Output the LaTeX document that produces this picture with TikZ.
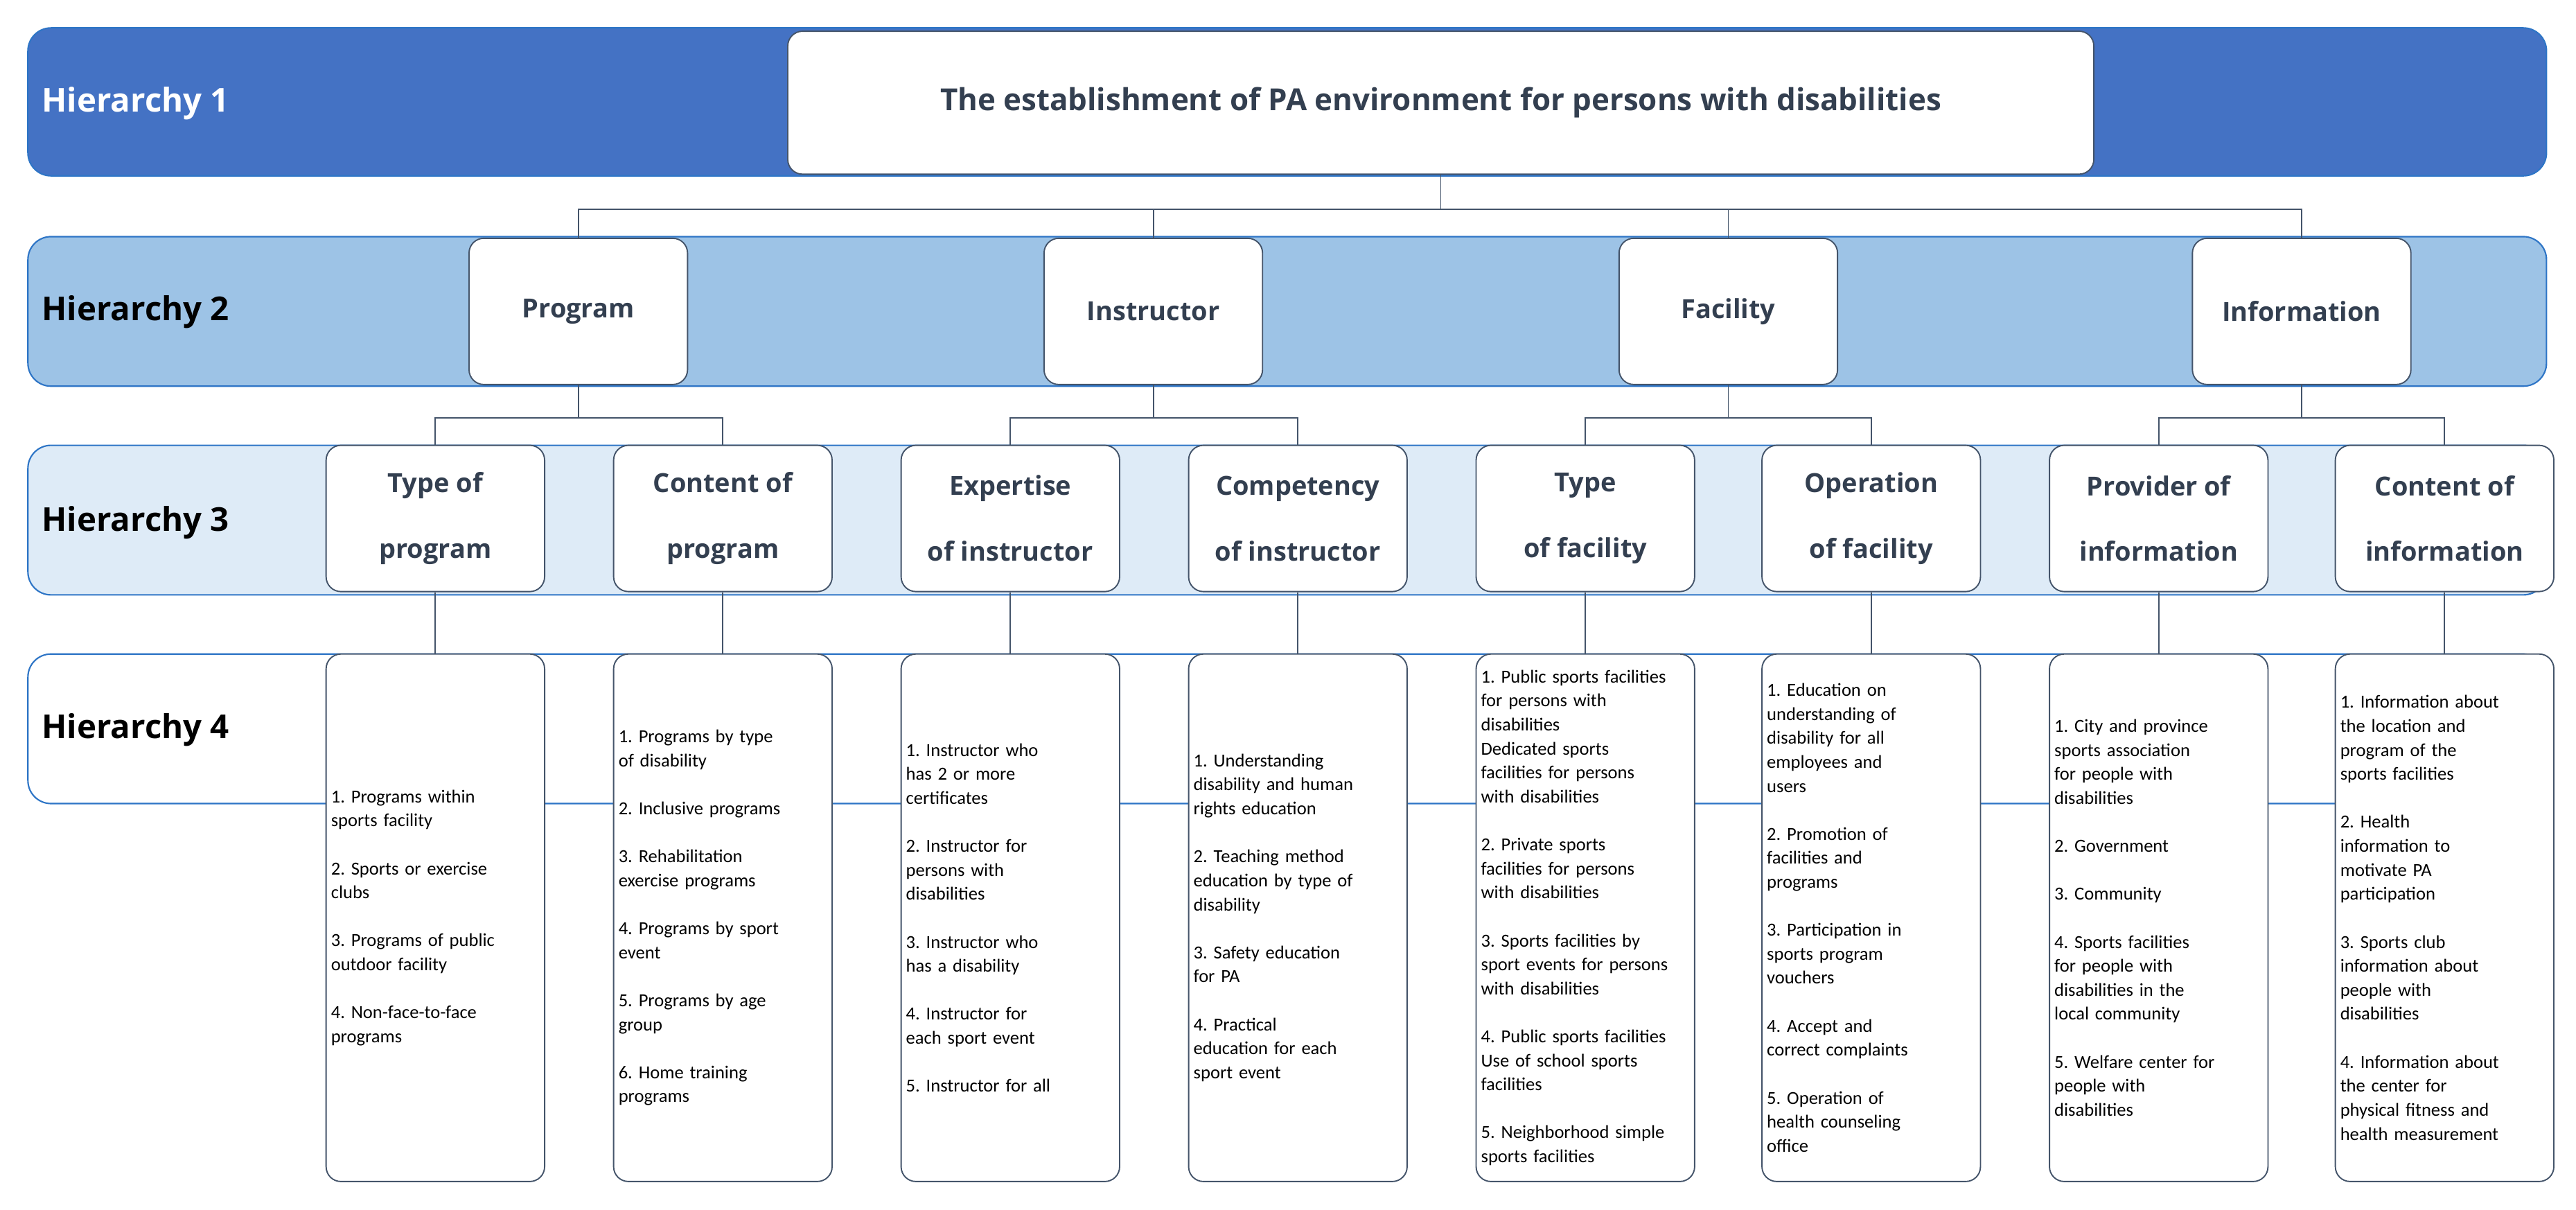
\documentclass[tikz,border=0pt]{standalone}
\usepackage{fontspec}
\setmainfont{Open Sans}
\newfontfamily\itemfont{Carlito}
\usetikzlibrary{positioning}
\definecolor{bandA}{HTML}{4472C4}
\definecolor{bandB}{HTML}{9DC3E6}
\definecolor{bandC}{HTML}{DEEBF7}
\definecolor{bandline}{HTML}{2E75C6}
\definecolor{boxline}{HTML}{44546A}
\definecolor{boxtext}{HTML}{333F50}
\tikzset{
  band/.style={draw=bandline, line width=0.9pt, rounded corners=14pt},
  level/.style={anchor=west, font=\fontsize{20}{25}\selectfont\bfseries},
  box/.style={draw=boxline, fill=white, line width=0.8pt, rounded corners=9pt, minimum width=133pt, inner sep=0pt},
  head/.style={box, minimum height=89pt, text=boxtext, font=\fontsize{16}{40}\selectfont\bfseries, align=center},
  leaf/.style={box, minimum height=321pt, text width=127pt, align=left, font=\itemfont\fontsize{11.2}{14.6}\selectfont},
  link/.style={draw=boxline, line width=0.8pt}
}
\newcommand{\gap}{\\[14.6pt]}
\frenchspacing
\begin{document}
\begin{tikzpicture}[x=1pt, y=-1pt]
  \useasboundingbox (0,0) rectangle (1568,736);
  % bands
  \draw [band, fill=bandA] (17,17) rectangle (1550,107);
  \draw [band, fill=bandB] (17,144) rectangle (1550,235);
  \draw [band, fill=bandC] (17,271) rectangle (1550,362);
  \draw [band, fill=white] (17,398) rectangle (1550,489);
  \node [level, text=white] (h1) at (22,63) {Hierarchy 1};
  \node [level] (h2) at (22,190) {Hierarchy 2};
  \node [level] (h3) at (22,318) {Hierarchy 3};
  \node [level] (h4) at (22,444) {Hierarchy 4};

  % hierarchy 1 and 2
  \node [box, minimum width=795pt, minimum height=87pt, text=boxtext, font=\fontsize{18.5}{24}\selectfont\bfseries] (goal) at (877,62.5) {The establishment of PA environment for persons with disabilities};
  \node [head] (prog) at (352,189.5) {Program};
  \node [head] (inst) at (702,189.5) {Instructor};
  \node [head] (faci) at (1052,189.5) {Facility};
  \node [head] (info) at (1401,189.5) {Information};

  % hierarchy 3
  \node [head] (progtype) at (265,315.5) {Type of\\program};
  \node [head] (progcont) at (440,315.5) {Content of\\program};
  \node [head] (instexp) at (615,315.5) {Expertise\\of instructor};
  \node [head] (instcomp) at (790,315.5) {Competency\\of instructor};
  \node [head] (facitype) at (965,315.5) {Type\\of facility};
  \node [head] (faciop) at (1139,315.5) {Operation\\of facility};
  \node [head] (infoprov) at (1314,315.5) {Provider of\\information};
  \node [head] (infocont) at (1488,315.5) {Content of\\information};

  % hierarchy 4
  \node [leaf] (l1) at (265,558.5) {1. Programs within\\sports facility\gap 2. Sports or exercise\\clubs\gap 3. Programs of public\\outdoor facility\gap 4. Non-face-to-face\\programs};
  \node [leaf] (l2) at (440,558.5) {1. Programs by type\\of disability\gap 2. Inclusive programs\gap 3. Rehabilitation\\exercise programs\gap 4. Programs by sport\\event\gap 5. Programs by age\\group\gap 6. Home training\\programs};
  \node [leaf] (l3) at (615,558.5) {1. Instructor who\\has 2 or more\\certificates\gap 2. Instructor for\\persons with\\disabilities\gap 3. Instructor who\\has a disability\gap 4. Instructor for\\each sport event\gap 5. Instructor for all};
  \node [leaf] (l4) at (790,558.5) {1. Understanding\\disability and human\\rights education\gap 2. Teaching method\\education by type of\\disability\gap 3. Safety education\\for PA\gap 4. Practical\\education for each\\sport event};
  \node [leaf] (l5) at (965,558.5) {1. Public sports facilities\\for persons with\\disabilities\\Dedicated sports\\facilities for persons\\with disabilities\gap 2. Private sports\\facilities for persons\\with disabilities\gap 3. Sports facilities by\\sport events for persons\\with disabilities\gap 4. Public sports facilities\\Use of school sports\\facilities\gap 5. Neighborhood simple\\sports facilities};
  \node [leaf] (l6) at (1139,558.5) {1. Education on\\understanding of\\disability for all\\employees and\\users\gap 2. Promotion of\\facilities and\\programs\gap 3. Participation in\\sports program\\vouchers\gap 4. Accept and\\correct complaints\gap 5. Operation of\\health counseling\\office};
  \node [leaf] (l7) at (1314,558.5) {1. City and province\\sports association\\for people with\\disabilities\gap 2. Government\gap 3. Community\gap 4. Sports facilities\\for people with\\disabilities in the\\local community\gap 5. Welfare center for\\people with\\disabilities};
  \node [leaf] (l8) at (1488,558.5) {1. Information about\\the location and\\program of the\\sports facilities\gap 2. Health\\information to\\motivate PA\\participation\gap 3. Sports club\\information about\\people with\\disabilities\gap 4. Information about\\the center for\\physical fitness and\\health measurement};

  % connectors
  \foreach \child in {prog,inst,faci,info}
    \draw [link] (goal.south) -- ++(0,21) -| (\child.north);
  \foreach \parent/\a/\b in {prog/progtype/progcont, inst/instexp/instcomp, faci/facitype/faciop, info/infoprov/infocont}{
    \draw [link] (\parent.south) -- ++(0,20) -| (\a.north);
    \draw [link] (\parent.south) -- ++(0,20) -| (\b.north);
  }
  \foreach \up/\down in {progtype/l1, progcont/l2, instexp/l3, instcomp/l4, facitype/l5, faciop/l6, infoprov/l7, infocont/l8}
    \draw [link] (\up.south) -- (\down.north);
\end{tikzpicture}
\end{document}
